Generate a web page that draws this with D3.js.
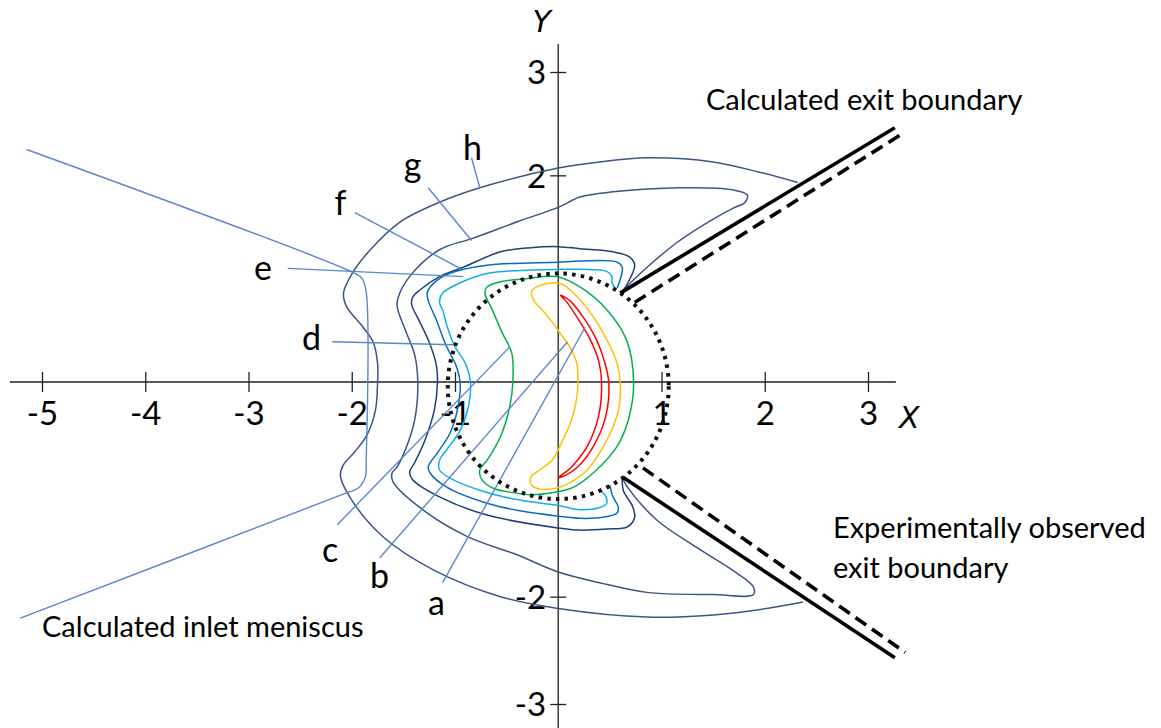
<!DOCTYPE html>
<html>
<head>
<meta charset="utf-8">
<script src="https://cdnjs.cloudflare.com/ajax/libs/d3/7.8.5/d3.min.js"></script>
<style>
  body { margin: 0; background: #fff; }
  svg { display: block; font-family: Lato, "Open Sans", sans-serif; }
</style>
</head>
<body>
<div id="chart"></div>
<script>
// tick values
const xTicks = [-5, -4, -3, -2, -1, 1, 2, 3];
const yTicks = [3, 2, -2, -3];

// contours a..h, [x, y] in axis units
const contourA = [[0.02,0.84],[0.11,0.79],[0.24,0.63],[0.37,0.41],[0.45,0.19],[0.49,-0.01],[0.46,-0.32],[0.34,-0.60],[0.19,-0.79],[0.07,-0.87],[0.00,-0.89],[0.07,-0.84],[0.13,-0.79],[0.28,-0.60],[0.39,-0.32],[0.42,-0.01],[0.39,0.21],[0.31,0.41],[0.18,0.63],[0.07,0.79]];
const contourB = [[-0.25,0.89],[-0.21,0.92],[-0.11,0.95],[-0.02,0.96],[0.05,0.94],[0.18,0.83],[0.34,0.63],[0.47,0.41],[0.57,0.18],[0.60,-0.01],[0.59,-0.23],[0.53,-0.42],[0.42,-0.63],[0.28,-0.82],[0.11,-0.94],[-0.02,-0.99],[-0.21,-0.99],[-0.27,-0.94],[-0.26,-0.88],[-0.18,-0.82],[-0.06,-0.73],[0.03,-0.57],[0.13,-0.35],[0.18,-0.14],[0.19,-0.01],[0.18,0.18],[0.11,0.34],[0.02,0.47],[-0.05,0.57],[-0.14,0.68],[-0.23,0.78],[-0.26,0.86]];
const contourC = [[-0.71,0.86],[-0.69,0.92],[-0.56,0.97],[-0.31,1.00],[-0.02,1.02],[0.21,0.92],[0.47,0.70],[0.66,0.41],[0.73,-0.01],[0.68,-0.35],[0.57,-0.60],[0.37,-0.82],[0.15,-0.98],[-0.05,-1.03],[-0.27,-1.05],[-0.44,-1.03],[-0.63,-0.99],[-0.74,-0.91],[-0.76,-0.82],[-0.69,-0.73],[-0.56,-0.51],[-0.47,-0.23],[-0.44,-0.01],[-0.45,0.28],[-0.54,0.47],[-0.64,0.70]];
const contourD = [[0.55,0.91],[0.52,0.96],[0.52,1.02],[0.47,1.07],[0.21,1.09],[0.00,1.09],[-0.37,1.08],[-0.69,1.05],[-0.95,0.96],[-1.12,0.86],[-1.15,0.77],[-1.12,0.70],[-1.08,0.55],[-1.01,0.36],[-0.89,0.16],[-0.85,-0.01],[-0.87,-0.23],[-0.95,-0.45],[-1.08,-0.63],[-1.15,-0.73],[-1.15,-0.82],[-1.02,-0.91],[-0.69,-1.03],[-0.37,-1.10],[0.00,-1.15],[0.21,-1.19],[0.40,-1.17],[0.47,-1.13],[0.45,-1.05],[0.40,-1.01]];
const contourE = [[0.57,0.91],[0.60,0.99],[0.62,1.11],[0.57,1.16],[0.21,1.17],[0.00,1.16],[-0.69,1.13],[-1.08,1.04],[-1.24,0.92],[-1.27,0.86],[-1.26,0.79],[-1.18,0.60],[-1.09,0.36],[-0.99,0.16],[-0.95,-0.01],[-0.97,-0.23],[-1.05,-0.48],[-1.17,-0.66],[-1.26,-0.79],[-1.24,-0.85],[-1.08,-0.98],[-0.69,-1.13],[-0.37,-1.20],[0.00,-1.25],[0.21,-1.27],[0.43,-1.26],[0.57,-1.22],[0.58,-1.16],[0.53,-1.07],[0.50,-0.96]];
const contourF = [[0.62,0.87],[0.69,0.99],[0.74,1.13],[0.69,1.21],[0.53,1.26],[0.21,1.29],[0.00,1.31],[-0.27,1.30],[-0.56,1.26],[-0.92,1.11],[-1.15,1.02],[-1.34,0.89],[-1.41,0.82],[-1.42,0.75],[-1.34,0.58],[-1.24,0.36],[-1.18,0.16],[-1.17,-0.01],[-1.20,-0.26],[-1.29,-0.54],[-1.39,-0.75],[-1.44,-0.84],[-1.41,-0.91],[-1.15,-1.07],[-0.69,-1.24],[0.00,-1.36],[0.21,-1.38],[0.47,-1.37],[0.67,-1.35],[0.74,-1.26],[0.72,-1.16],[0.63,-1.01],[0.62,-0.89]];
const contourG = [[0.60,0.86],[0.86,1.11],[1.15,1.35],[1.44,1.54],[1.69,1.68],[1.81,1.74],[1.83,1.81],[1.69,1.86],[1.18,1.88],[0.53,1.84],[0.21,1.79],[0.00,1.69],[-0.37,1.56],[-0.83,1.39],[-1.15,1.28],[-1.44,1.02],[-1.55,0.82],[-1.56,0.73],[-1.48,0.50],[-1.39,0.26],[-1.36,-0.01],[-1.39,-0.35],[-1.48,-0.63],[-1.56,-0.79],[-1.61,-0.85],[-1.60,-0.93],[-1.27,-1.22],[-0.88,-1.44],[-0.40,-1.61],[0.00,-1.77],[0.40,-1.87],[0.86,-1.96],[1.50,-1.98],[1.89,-1.98],[1.89,-1.91],[1.73,-1.78],[1.34,-1.54],[0.96,-1.29],[0.67,-0.98],[0.62,-0.89]];
const contourH = [[2.32,1.93],[1.95,2.03],[1.50,2.13],[0.86,2.17],[0.40,2.13],[0.00,2.07],[-0.76,1.88],[-1.15,1.74],[-1.53,1.55],[-1.82,1.28],[-1.99,1.06],[-2.08,0.86],[-2.05,0.73],[-1.89,0.53],[-1.79,0.38],[-1.75,0.18],[-1.75,-0.01],[-1.77,-0.26],[-1.85,-0.49],[-1.97,-0.65],[-2.08,-0.77],[-2.11,-0.87],[-2.02,-1.07],[-1.70,-1.44],[-1.21,-1.75],[-0.56,-2.00],[0.00,-2.11],[0.86,-2.19],[1.50,-2.17],[2.02,-2.11],[2.37,-2.05]];

const inletMeniscus = [[-5.15,2.25],[-1.99,1.06],[-1.90,1.00],[-1.86,0.87],[-1.86,-0.73],[-1.87,-0.89],[-1.94,-0.99],[-2.07,-1.04],[-5.21,-2.20]];

// exit boundaries: calculated (solid) and observed (dashed)
const exitCalcUpper = [[0.60,0.86],[3.26,2.46]];
const exitCalcLower = [[0.63,-0.89],[3.26,-2.57]];
const exitObsUpper = [[0.74,0.77],[3.36,2.42]];
const exitObsLower = [[0.82,-0.80],[3.36,-2.52]];

// outlet circle
const circleCenter = [0, -0.02];
const circleRadius = 1.07;

// contour labels: name, label position, leader start, leader end
const labelNames = ["a", "b", "c", "d", "e", "f", "g", "h"];
const labelPos = [[-1.18,-2.17],[-1.73,-1.92],[-2.21,-1.68],[-2.39,0.31],[-2.86,0.99],[-2.11,1.62],[-1.41,1.98],[-0.83,2.15]];
const leaderFrom = [[-1.12,-1.87],[-1.73,-1.64],[-2.14,-1.33],[-2.19,0.39],[-2.62,1.10],[-1.97,1.64],[-1.26,1.88],[-0.84,2.17]];
const leaderTo = [[0.26,0.53],[0.09,0.39],[-0.47,0.34],[-1.02,0.36],[-0.92,1.02],[-0.95,1.10],[-0.84,1.37],[-0.76,1.88]];

const width = 1161, height = 728;

const x = d3.scaleLinear().domain([-5, 3]).range([42, 868]);
const y = d3.scaleLinear().domain([-3, 0, 3]).range([704, 382, 72]);

const svg = d3.select("#chart").append("svg")
    .attr("width", width)
    .attr("height", height);

// axes
svg.append("line")
    .attr("x1", x(-5.31)).attr("x2", x(3.27))
    .attr("y1", y(0)).attr("y2", y(0))
    .attr("stroke", "#222").attr("stroke-width", 1.6);
svg.append("line")
    .attr("x1", x(0)).attr("x2", x(0))
    .attr("y1", y(3.27)).attr("y2", y(-3.3))
    .attr("stroke", "#444").attr("stroke-width", 1.6);

const xAxis = svg.append("g")
    .attr("transform", `translate(0,${y(0)})`)
    .call(d3.axisBottom(x).tickValues(xTicks).tickSize(10).tickFormat(d => String(d)));
xAxis.select(".domain").remove();
xAxis.selectAll(".tick line").attr("y1", -10).attr("stroke", "#222").attr("stroke-width", 1.3);
xAxis.selectAll(".tick text")
    .attr("y", 43).attr("dy", 0)
    .attr("font-size", 33).attr("font-family", "Lato, sans-serif").attr("fill", "#000");

const yAxis = svg.append("g")
    .attr("transform", `translate(${x(0)},0)`)
    .call(d3.axisLeft(y).tickValues(yTicks).tickSize(8).tickFormat(d => String(d)));
yAxis.select(".domain").remove();
yAxis.selectAll(".tick line").attr("x1", 8).attr("stroke", "#222").attr("stroke-width", 1.3);
yAxis.selectAll(".tick text")
    .attr("x", -12).attr("dy", "0.36em")
    .attr("font-size", 33).attr("font-family", "Lato, sans-serif").attr("fill", "#000");

svg.append("text")
    .attr("x", x(3.3)).attr("y", y(-0.43))
    .attr("font-family", "'DejaVu Sans', sans-serif")
    .attr("font-size", 30).attr("font-style", "oblique").text("X");
svg.append("text")
    .attr("x", x(-0.25)).attr("y", y(3.39))
    .attr("font-family", "'DejaVu Sans', sans-serif")
    .attr("font-size", 30).attr("font-style", "oblique").text("Y");

// contours
const closedLine = d3.line().x(d => x(d[0])).y(d => y(d[1])).curve(d3.curveCatmullRomClosed.alpha(0.5));
const openLine = d3.line().x(d => x(d[0])).y(d => y(d[1])).curve(d3.curveCatmullRom.alpha(0.5));
const straight = d3.line().x(d => x(d[0])).y(d => y(d[1]));

const contours = [
    {pts: contourH, closed: false, color: "#3c5488"},
    {pts: contourG, closed: false, color: "#3c5488"},
    {pts: contourF, closed: false, color: "#213f78"},
    {pts: contourE, closed: false, color: "#0a6cc0"},
    {pts: contourD, closed: false, color: "#12aeea"},
    {pts: contourC, closed: true, color: "#00b050"},
    {pts: contourB, closed: true, color: "#ffc000"},
    {pts: contourA, closed: true, color: "#ff0000"}
];

svg.append("g")
  .selectAll("path")
  .data(contours)
  .join("path")
    .attr("d", d => d.closed ? closedLine(d.pts) : openLine(d.pts))
    .attr("fill", "none")
    .attr("stroke", d => d.color)
    .attr("stroke-width", 1.5);

// inlet meniscus and leader lines
svg.append("path")
    .attr("d", openLine(inletMeniscus))
    .attr("fill", "none").attr("stroke", "#5b87c9").attr("stroke-width", 1.4);

svg.append("g")
  .selectAll("line")
  .data(labelNames)
  .join("line")
    .attr("x1", (d, i) => x(leaderFrom[i][0])).attr("y1", (d, i) => y(leaderFrom[i][1]))
    .attr("x2", (d, i) => x(leaderTo[i][0])).attr("y2", (d, i) => y(leaderTo[i][1]))
    .attr("stroke", "#5b87c9").attr("stroke-width", 1.4);

svg.append("g")
  .selectAll("text")
  .data(labelNames)
  .join("text")
    .attr("x", (d, i) => x(labelPos[i][0])).attr("y", (d, i) => y(labelPos[i][1]))
    .attr("text-anchor", "middle")
    .attr("font-size", 34)
    .text(d => d);

// dotted circle
svg.append("ellipse")
    .attr("cx", x(circleCenter[0]))
    .attr("cy", (y(circleCenter[1] + circleRadius) + y(circleCenter[1] - circleRadius)) / 2)
    .attr("rx", x(circleRadius) - x(0))
    .attr("ry", (y(circleCenter[1] - circleRadius) - y(circleCenter[1] + circleRadius)) / 2)
    .attr("fill", "none").attr("stroke", "#111")
    .attr("stroke-width", 4).attr("stroke-dasharray", "3.5 5.2");

// exit boundaries
[exitCalcUpper, exitCalcLower].forEach(seg => {
    svg.append("path").attr("d", straight(seg))
        .attr("stroke", "#000").attr("stroke-width", 3.6).attr("fill", "none");
});
[exitObsUpper, exitObsLower].forEach(seg => {
    svg.append("path").attr("d", straight(seg))
        .attr("stroke", "#000").attr("stroke-width", 3.6).attr("fill", "none")
        .attr("stroke-dasharray", "13 7");
});

// annotations
const notes = [
    {text: "Calculated exit boundary", at: [1.43, 2.63]},
    {text: "Experimentally observed", at: [2.66, -1.45]},
    {text: "exit boundary", at: [2.66, -1.83]},
    {text: "Calculated inlet meniscus", at: [-5.0, -2.38]}
];
svg.append("g")
  .selectAll("text")
  .data(notes)
  .join("text")
    .attr("x", d => x(d.at[0])).attr("y", d => y(d.at[1]))
    .attr("font-size", 29)
    .text(d => d.text);
</script>
</body>
</html>
